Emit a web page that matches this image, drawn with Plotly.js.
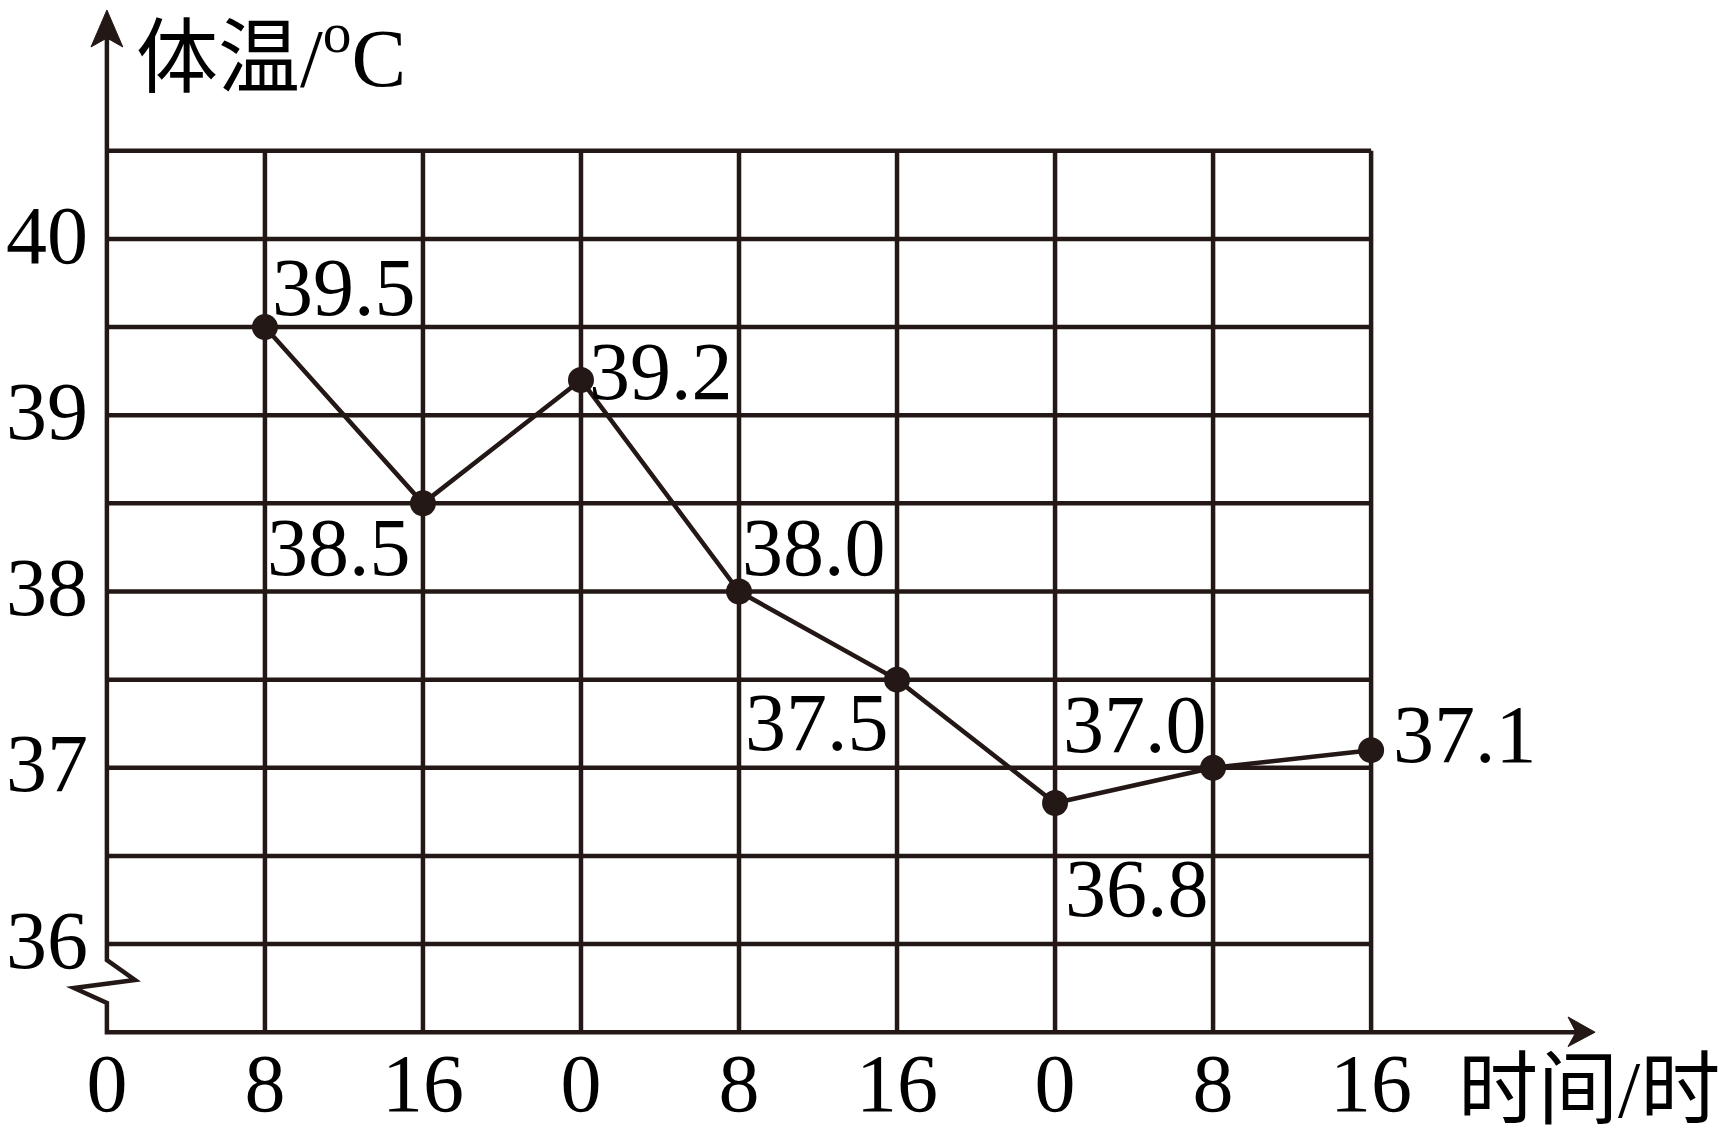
<!DOCTYPE html>
<html>
<head>
<meta charset="utf-8">
<script src="https://cdn.plot.ly/plotly-3.0.1.min.js"></script>
<style>
  html, body { margin: 0; padding: 0; background: #ffffff; }
  #chart { width: 1730px; height: 1136px; }
</style>
</head>
<body>
<div id="chart"></div>
<script>
// ---- data ----
var xIndex = [1, 2, 3, 4, 5, 6, 7, 8];
var temps = [39.5, 38.5, 39.2, 38.0, 37.5, 36.8, 37.0, 37.1];
var xTickVals = [0, 1, 2, 3, 4, 5, 6, 7, 8];
var xTickText = ['0', '8', '16', '0', '8', '16', '0', '8', '16'];
var yTickVals = [36, 37, 38, 39, 40];
var yGridVals = [36, 36.5, 37, 37.5, 38, 38.5, 39, 39.5, 40, 40.5];
var xGridVals = [1, 2, 3, 4, 5, 6, 7, 8];
var yTitle = '体温/<sup>o</sup>C';
var xTitle = '时间/时';

// ---- label placement (style only) ----
var labelPlace = [
  {xa: 'left',  xs: 5,   ys: 40},
  {xa: 'right', xs: -10, ys: -44},
  {xa: 'left',  xs: 6,   ys: 8},
  {xa: 'left',  xs: 1,   ys: 44},
  {xa: 'right', xs: -6,  ys: -43},
  {xa: 'left',  xs: 8,   ys: -85},
  {xa: 'right', xs: -4,  ys: 43},
  {xa: 'left',  xs: 20,  ys: 16}
];

var INK = '#231815';
var FONT = '"Liberation Serif", "Noto Sans CJK SC", serif';
var XMIN = 0, XMAX = 8, YMIN = 35.5, YMAX = 40.5;

var shapes = [];
// vertical grid lines
xGridVals.forEach(function (v) {
  shapes.push({type: 'line', xref: 'x', yref: 'y', x0: v, x1: v, y0: YMIN, y1: YMAX,
    line: {color: INK, width: 4.5}, layer: 'below'});
});
// horizontal grid lines
yGridVals.forEach(function (v) {
  shapes.push({type: 'line', xref: 'x', yref: 'y', x0: XMIN, x1: XMAX, y0: v, y1: v,
    line: {color: INK, width: 4.5}, layer: 'below'});
});
// axes: y axis with break zigzag below 36, then x axis
shapes.push({type: 'path', xref: 'paper', yref: 'paper',
  path: 'M0.00617,1.1157 L0.00617,0.0901 L0.0281,0.0679 L-0.0195,0.0590 L0.00617,0.0423 L0.00617,0.0098 L1.1539,0.0098',
  line: {color: INK, width: 4.5}, fillcolor: 'rgba(0,0,0,0)', layer: 'above'});
// arrowheads
shapes.push({type: 'path', xref: 'paper', yref: 'paper',
  path: 'M1.1688,0.0098 L1.1477,0.0267 L1.1539,0.0098 L1.1477,-0.0062 Z',
  line: {color: INK, width: 1}, fillcolor: INK, layer: 'above'});
shapes.push({type: 'path', xref: 'paper', yref: 'paper',
  path: 'M0.00617,1.1468 L-0.00625,1.1057 L0.00617,1.1157 L0.0186,1.1057 Z',
  line: {color: INK, width: 1}, fillcolor: INK, layer: 'above'});

var annotations = [];
temps.forEach(function (t, i) {
  var p = labelPlace[i];
  annotations.push({xref: 'x', yref: 'y', x: xIndex[i], y: t, text: t.toFixed(1),
    showarrow: false, xanchor: p.xa, yanchor: 'middle', xshift: p.xs, yshift: p.ys,
    font: {family: FONT, size: 82, color: '#000000'}});
});
// axis titles
annotations.push({xref: 'paper', yref: 'paper', x: 0.0273, y: 1.100, xanchor: 'left', yanchor: 'middle',
  text: yTitle, showarrow: false, font: {family: FONT, size: 82, color: '#000000'}});
annotations.push({xref: 'paper', yref: 'paper', x: 1.060, y: -0.054, xanchor: 'left', yanchor: 'middle',
  text: xTitle, showarrow: false, font: {family: FONT, size: 80, color: '#000000'}});

var trace = {
  x: xIndex, y: temps, type: 'scatter', mode: 'lines+markers',
  line: {color: INK, width: 4.5},
  marker: {color: INK, size: 26},
  cliponaxis: false, hoverinfo: 'skip'
};

var layout = {
  width: 1730, height: 1136,
  margin: {l: 99, r: 351, t: 142, b: 95, pad: 0},
  paper_bgcolor: '#ffffff', plot_bgcolor: 'rgba(0,0,0,0)',
  showlegend: false,
  font: {family: FONT, color: '#000000'},
  xaxis: {range: [-0.05, 8.05], tickmode: 'array', tickvals: xTickVals, ticktext: xTickText,
    showgrid: false, zeroline: false, showline: false, ticks: '',
    tickfont: {family: FONT, size: 82, color: '#000000'}, ticklabelstandoff: -13, fixedrange: true},
  yaxis: {range: [35.45, 40.55], tickmode: 'array', tickvals: yTickVals,
    showgrid: false, zeroline: false, showline: false, ticks: '',
    tickfont: {family: FONT, size: 82, color: '#000000'}, ticklabelstandoff: 10,
    ticklabelshift: -5, fixedrange: true},
  shapes: shapes,
  annotations: annotations
};

Plotly.newPlot('chart', [trace], layout, {staticPlot: true, displayModeBar: false});
</script>
</body>
</html>
